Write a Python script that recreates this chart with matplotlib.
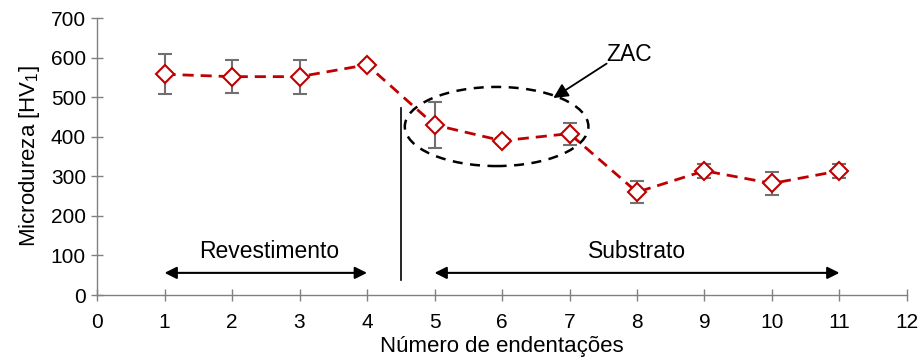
import matplotlib
matplotlib.use("Agg")
import matplotlib.pyplot as plt
from matplotlib.patches import Ellipse

plt.rcParams['font.family'] = ['Liberation Sans', 'DejaVu Sans']
plt.rcParams['mathtext.fontset'] = 'custom'
plt.rcParams['mathtext.rm'] = 'Liberation Sans'

indents = [1, 2, 3, 4, 5, 6, 7, 8, 9, 10, 11]
hardness = [558, 552, 552, 582, 430, 390, 408, 260, 314, 282, 314]
errors = [50, 42, 43, 8, 58, 8, 28, 28, 18, 30, 18]
xticks = list(range(0, 13))
yticks = list(range(0, 701, 100))

fig = plt.figure(figsize=(9.18, 3.62), dpi=100)
ax = fig.add_axes([0.1057, 0.185, 0.8823, 0.765])

ax.errorbar(indents, hardness, yerr=errors, fmt='none', ecolor='#707070',
            elinewidth=1.5, capsize=5, capthick=1.5, zorder=2)
ax.plot(indents, hardness, color='#C00000', linestyle=(0, (4, 2.5)), linewidth=2,
        marker='D', markersize=9, markerfacecolor='white', markeredgecolor='#C00000',
        markeredgewidth=1.5, zorder=3)

ax.set_xlim(0, 12)
ax.set_ylim(0, 700)
ax.set_xticks(xticks)
ax.set_yticks(yticks)
ax.tick_params(axis='both', labelsize=15, colors='black')
ax.tick_params(axis='x', direction='inout', length=8, color='#808080', width=1, pad=9)
ax.tick_params(axis='y', direction='inout', length=8, color='#808080', width=1, pad=4)
for s in ['top', 'right']:
    ax.spines[s].set_visible(False)
for s in ['left', 'bottom']:
    ax.spines[s].set_color('#808080')
    ax.spines[s].set_linewidth(1)

ax.set_xlabel('Número de endentações', fontsize=16, labelpad=3)
ax.set_ylabel('Microdureza [HV$_\\mathrm{1}$]', fontsize=16, labelpad=6)

# Vertical separator
ax.plot([4.5, 4.5], [38, 473], color='black', linewidth=1.2, zorder=1)

# Region arrows
ax.annotate('', xy=(1.0, 56), xytext=(4.0, 56),
            arrowprops=dict(arrowstyle='<|-|>', color='black', lw=1.5,
                            mutation_scale=18, shrinkA=0, shrinkB=0))
ax.annotate('', xy=(5.0, 56), xytext=(11.0, 56),
            arrowprops=dict(arrowstyle='<|-|>', color='black', lw=1.5,
                            mutation_scale=18, shrinkA=0, shrinkB=0))
ax.text(2.55, 111, 'Revestimento', fontsize=16.5, ha='center', va='center')
ax.text(8.0, 111, 'Substrato', fontsize=16.5, ha='center', va='center')

# ZAC ellipse and arrow
ell = Ellipse((5.92, 426), width=2.72, height=200, fill=False, edgecolor='black',
              linestyle=(0, (4, 3)), linewidth=1.8, zorder=1)
ax.add_patch(ell)
ax.annotate('', xy=(6.76, 498), xytext=(7.55, 585),
            arrowprops=dict(arrowstyle='-|>', color='black', lw=1.3,
                            mutation_scale=22, shrinkA=0, shrinkB=0))
ax.text(7.55, 608, 'ZAC', fontsize=16.5, ha='left', va='center')

fig.savefig('out.png', dpi=100)
